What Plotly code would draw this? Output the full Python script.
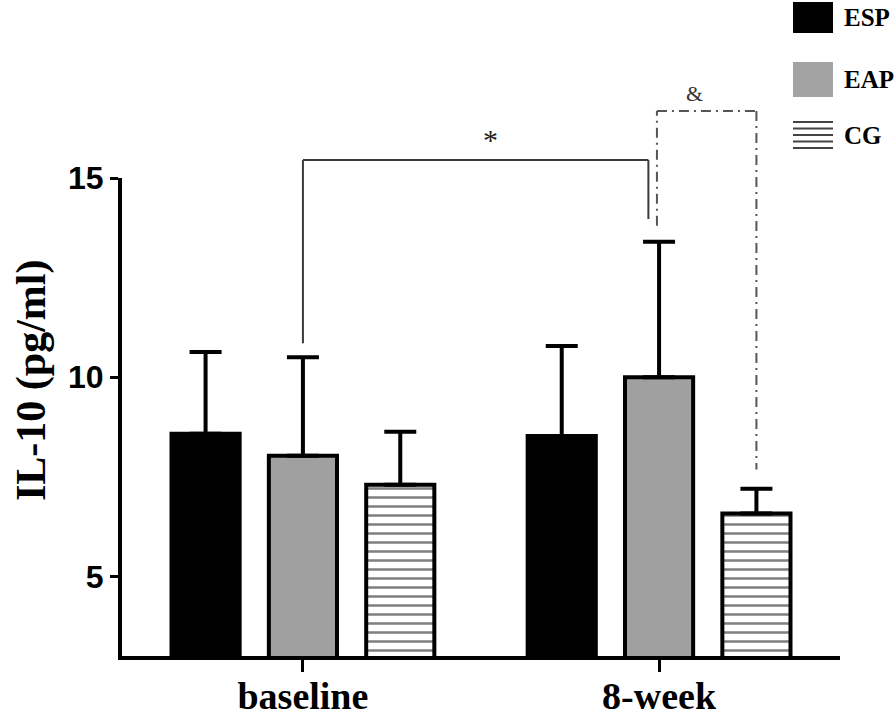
import plotly.graph_objects as go

# ---------------- data ----------------
categories = ["baseline", "8-week"]
groups = ["ESP", "EAP", "CG"]
esp_mean = [8.58, 8.52]
esp_sd = [2.05, 2.26]
eap_mean = [8.03, 10.0]
eap_sd = [2.47, 3.40]
cg_mean = [7.30, 6.58]
cg_sd = [1.33, 0.62]
y_ticks = [5, 10, 15]
y_title = "IL-10 (pg/ml)"
sig_labels = ["*", "&"]

# ---------------- layout constants ----------------
W, H = 896, 720
ML, MR, MT, MB = 122, 56, 178, 64
XR = [-0.508, 1.508]
YR = [3, 15]
BARGAP = 0.18
SLOT = (1 - BARGAP) / 3  # width of one bar slot in category units

SERIF = "Liberation Serif"
SANS = "Liberation Sans"

def xp(x):
    return (x - XR[0]) / (XR[1] - XR[0])

def yp(v):
    return (v - YR[0]) / (YR[1] - YR[0])

def pxx(X):
    return (X - ML) / (W - ML - MR)

def pxy(Y):
    return (H - MB - Y) / (H - MT - MB)

fig = go.Figure()

err_style = dict(type="data", symmetric=False, color="black", thickness=4, width=16)

fig.add_trace(go.Bar(
    x=categories, y=esp_mean, name=groups[0],
    marker=dict(color="black", line=dict(color="black", width=4)),
    error_y=dict(array=esp_sd, arrayminus=[0] * len(esp_sd), **err_style),
))
fig.add_trace(go.Bar(
    x=categories, y=eap_mean, name=groups[1],
    marker=dict(color="#a0a0a0", line=dict(color="black", width=4)),
    error_y=dict(array=eap_sd, arrayminus=[0] * len(eap_sd), **err_style),
))
fig.add_trace(go.Bar(
    x=categories, y=cg_mean, name=groups[2],
    marker=dict(color="white", line=dict(color="black", width=4),
                pattern=dict(shape="-", fgcolor="black", bgcolor="white",
                             size=9, solidity=0.28)),
    error_y=dict(array=cg_sd, arrayminus=[0] * len(cg_sd), **err_style),
))

shapes = []
annotations = []

# significance bracket "*" : baseline EAP vs 8-week EAP
b1_left_x = 0.0
b1_right_x = 1.0 - 0.03
b1_left_bot = eap_mean[0] + eap_sd[0] + 0.35
b1_right_bot = eap_mean[1] + eap_sd[1] + 0.57
b1_top = 15.45
line1 = dict(color="#3a3a3a", width=2)
for (xa, ya, xb, yb) in [
    (b1_left_x, b1_left_bot, b1_left_x, b1_top),
    (b1_left_x, b1_top, b1_right_x, b1_top),
    (b1_right_x, b1_top, b1_right_x, b1_right_bot),
]:
    shapes.append(dict(type="line", xref="paper", yref="paper",
                       x0=xp(xa), y0=yp(ya), x1=xp(xb), y1=yp(yb), line=line1))
annotations.append(dict(xref="paper", yref="paper", x=xp(0.527), y=yp(15.5),
                        text=sig_labels[0], showarrow=False, yanchor="bottom",
                        font=dict(family=SERIF, size=30, color="#222")))

# significance bracket "&" : 8-week EAP vs 8-week CG
b2_left_x = 1.0 - 0.006
b2_right_x = 1.0 + SLOT
b2_left_bot = eap_mean[1] + eap_sd[1] + 0.40
b2_right_bot = cg_mean[1] + cg_sd[1] + 0.48
b2_top = 16.68
line2 = dict(color="#555555", width=2, dash="10px,5px,2px,5px")
for (xa, ya, xb, yb) in [
    (b2_left_x, b2_left_bot, b2_left_x, b2_top),
    (b2_left_x, b2_top, b2_right_x, b2_top),
    (b2_right_x, b2_top, b2_right_x, b2_right_bot),
]:
    shapes.append(dict(type="line", xref="paper", yref="paper",
                       x0=xp(xa), y0=yp(ya), x1=xp(xb), y1=yp(yb), line=line2))
annotations.append(dict(xref="paper", yref="paper", x=xp(1.13), y=yp(16.75),
                        text=sig_labels[1], showarrow=False, yanchor="bottom",
                        font=dict(family=SERIF, size=22, color="#333")))

# ---------------- y-axis title (placed as in reference) ----------------
annotations.append(dict(xref="paper", yref="paper", x=pxx(31), y=pxy(380),
                        text=f"<b>{y_title}</b>", showarrow=False, textangle=-90,
                        xanchor="center", yanchor="middle",
                        font=dict(family=SERIF, size=42, color="black")))

# ---------------- custom legend ----------------
leg_x0, leg_x1 = 793, 833
leg_rows = [(2, 33), (62, 97), (120, 150)]
shapes.append(dict(type="rect", xref="paper", yref="paper",
                   x0=pxx(leg_x0), x1=pxx(leg_x1), y0=pxy(leg_rows[0][1]), y1=pxy(leg_rows[0][0]),
                   fillcolor="black", line=dict(width=0)))
shapes.append(dict(type="rect", xref="paper", yref="paper",
                   x0=pxx(leg_x0), x1=pxx(leg_x1), y0=pxy(leg_rows[1][1]), y1=pxy(leg_rows[1][0]),
                   fillcolor="#a3a3a3", line=dict(width=0)))
for k in range(5):
    Y = leg_rows[2][0] + 2 + k * 6.5
    shapes.append(dict(type="line", xref="paper", yref="paper",
                       x0=pxx(leg_x0), x1=pxx(leg_x1), y0=pxy(Y), y1=pxy(Y),
                       line=dict(color="#444", width=2)))
for name, (t, b) in zip(groups, leg_rows):
    annotations.append(dict(xref="paper", yref="paper", x=pxx(842), y=pxy((t + b) / 2),
                            text=f"<b>{name}</b>", showarrow=False,
                            xanchor="left", yanchor="middle",
                            font=dict(family=SERIF, size=25, color="black")))

fig.update_layout(
    width=W, height=H, autosize=False,
    margin=dict(l=ML, r=MR, t=MT, b=MB),
    paper_bgcolor="white", plot_bgcolor="white",
    barmode="group", bargap=BARGAP, bargroupgap=0.3,
    showlegend=False,
    shapes=shapes, annotations=annotations,
    xaxis=dict(
        range=XR, showline=True, linecolor="black", linewidth=4,
        ticks="outside", ticklen=12, tickwidth=3, tickcolor="black",
        tickfont=dict(family=SERIF, size=38, color="black", weight="bold"),
        ticklabelstandoff=-9,
        showgrid=False, zeroline=False, automargin=False,
    ),
    yaxis=dict(
        range=YR, tickvals=y_ticks, showline=True, linecolor="black", linewidth=4,
        ticks="outside", ticklen=8, tickwidth=3, tickcolor="black",
        tickfont=dict(family=SANS, size=32, color="black", weight="bold"),
        showgrid=False, zeroline=False, automargin=False,
    ),
)

fig.write_html(
    "out.html",
    config={"displayModeBar": False},
    post_script="document.body.style.margin='0px';document.body.style.overflow='hidden';",
)
